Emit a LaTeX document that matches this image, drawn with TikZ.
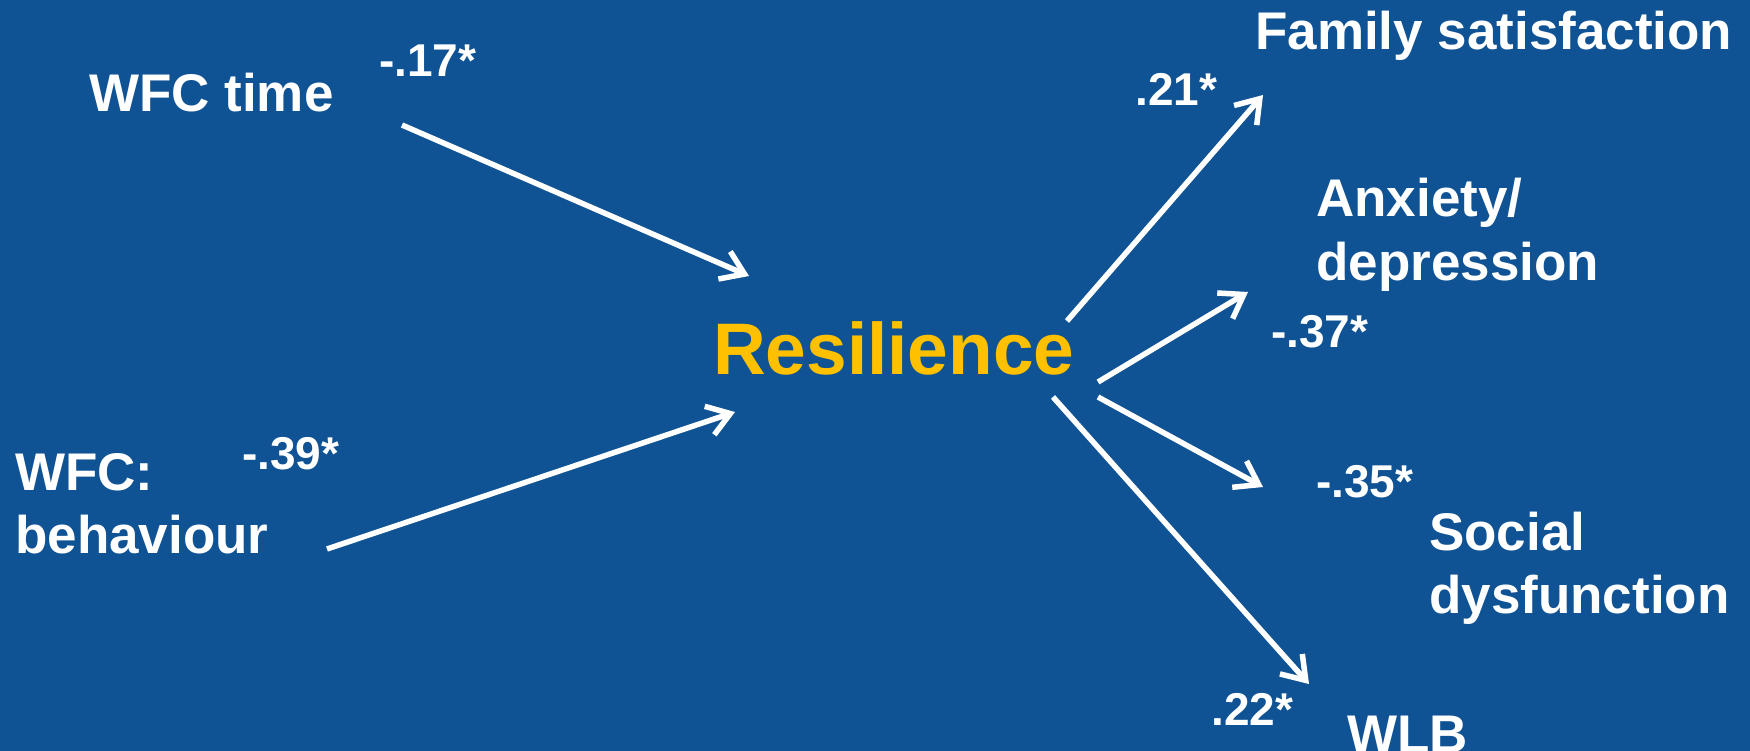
\documentclass[tikz,border=0pt]{standalone}
\usepackage{fontspec}
\setmainfont{Liberation Sans}
\usetikzlibrary{arrows.meta}
\definecolor{bg}{RGB}{15,83,148}
\definecolor{gold}{RGB}{255,192,0}
\begin{document}
\begin{tikzpicture}[x=1pt,y=-1pt,
  lbl/.style={text=white, inner sep=0pt, anchor=base west, align=left,
    font=\bfseries\fontsize{53}{63}\selectfont},
  num/.style={text=white, inner sep=0pt, anchor=base west,
    font=\bfseries\fontsize{46}{55}\selectfont},
  res/.style={text=gold, inner sep=0pt, anchor=base west,
    font=\bfseries\fontsize{73}{85}\selectfont},
  link/.style={draw=white, line width=5.5pt, -{Straight Barb[length=22pt,width=30pt]}}]
\fill[bg] (0,0) rectangle (1750,751);
\useasboundingbox (0,0) rectangle (1750,751);
% nodes (multi-line nodes are anchored at the baseline of their last line)
\node[lbl] (wfct) at (89,112) {WFC time};
\node[num] (n17) at (379,77) {-.17*};
\node[res] (res) at (713,374) {Resilience};
\node[lbl] (wfcb) at (15,553) {WFC:\\behaviour};
\node[num] (n39) at (242,469) {-.39*};
\node[lbl] (fam) at (1255,50) {Family satisfaction};
\node[num] (n21) at (1135,106) {.21*};
\node[lbl] (anx) at (1316,280) {Anxiety/\\depression};
\node[num] (n37) at (1271,347) {-.37*};
\node[num] (n35) at (1316,497) {-.35*};
\node[lbl] (soc) at (1429,613) {Social\\dysfunction};
\node[num] (n22) at (1211,725) {.22*};
\node[lbl] (wlb) at (1347,752) {WLB};
% connector ends
\coordinate (a1s) at (402,125); \coordinate (a1e) at (749,276);
\coordinate (a2s) at (327,549); \coordinate (a2e) at (735,412);
\coordinate (a3s) at (1067,321); \coordinate (a3e) at (1263,95);
\coordinate (a4s) at (1098,382); \coordinate (a4e) at (1248,292);
\coordinate (a5s) at (1098,397); \coordinate (a5e) at (1263,487);
\coordinate (a6s) at (1053,397); \coordinate (a6e) at (1309,684);
\draw[link] (a1s) -- (a1e);
\draw[link] (a2s) -- (a2e);
\draw[link] (a3s) -- (a3e);
\draw[link] (a4s) -- (a4e);
\draw[link] (a5s) -- (a5e);
\draw[link] (a6s) -- (a6e);
\end{tikzpicture}
\end{document}
